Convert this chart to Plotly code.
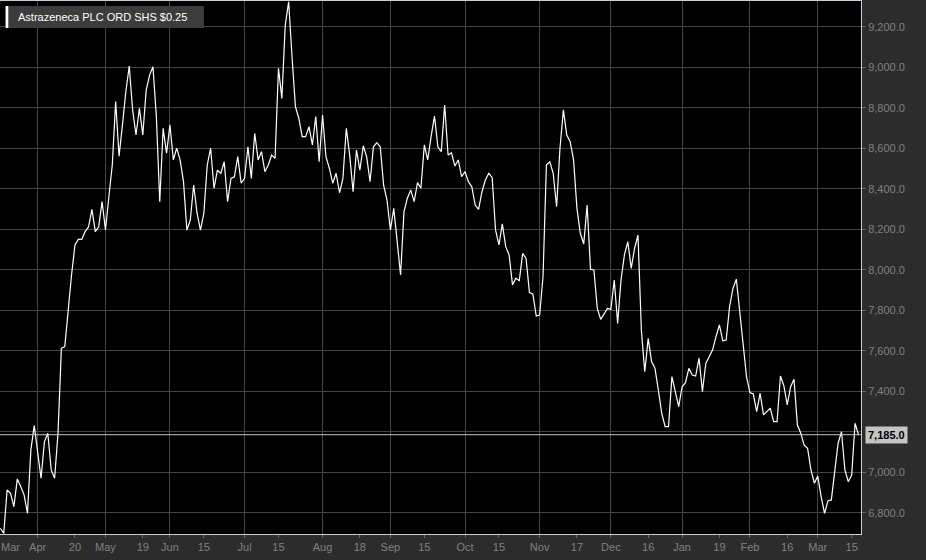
import pandas as pd
import plotly.graph_objects as go

# ---------------- data ----------------
series_name = "Astrazeneca PLC ORD SHS $0.25"
start_date = "2020-03-17"
end_date = "2021-03-17"
market_holidays = ["2020-04-10", "2020-04-13", "2020-05-08", "2020-05-25",
                   "2020-08-31", "2020-12-25", "2020-12-28", "2021-01-01"]

close_prices = [
    6723, 6698, 6912, 6896, 6830, 6967, 6929, 6888, 6797, 7110,
    7230, 7101, 6970, 7151, 7192, 7011, 6970, 7193, 7612, 7620,
    7807, 7975, 8122, 8150, 8150, 8188, 8212, 8298, 8188, 8212,
    8336, 8196, 8360, 8517, 8830, 8561, 8715, 8879, 9006, 8789,
    8665, 8797, 8665, 8887, 8961, 9002, 8756, 8336, 8698, 8575,
    8715, 8542, 8600, 8542, 8435, 8196, 8245, 8418, 8279, 8196,
    8279, 8517, 8600, 8402, 8492, 8476, 8533, 8336, 8451, 8459,
    8558, 8427, 8451, 8607, 8451, 8674, 8542, 8583, 8484, 8517,
    8566, 8550, 8995, 8846, 9208, 9323, 9052, 8805, 8748, 8657,
    8657, 8706, 8616, 8756, 8533, 8764, 8558, 8501, 8427, 8476,
    8380, 8451, 8698, 8566, 8385, 8591, 8492, 8612, 8558, 8435,
    8607, 8627, 8607, 8418, 8344, 8196, 8303, 8138, 7974, 8286,
    8353, 8394, 8336, 8430, 8402, 8616, 8542, 8657, 8759, 8607,
    8583, 8813, 8566, 8578, 8512, 8542, 8459, 8484, 8435, 8410,
    8319, 8298, 8385, 8443, 8476, 8456, 8196, 8122, 8226, 8114,
    8073, 7925, 7958, 7946, 8081, 8056, 7887, 7880, 7771, 7776,
    7966, 8517, 8533, 8476, 8311, 8600, 8789, 8665, 8632, 8542,
    8303, 8180, 8127, 8319, 8002, 7999, 7809, 7755, 7785, 7809,
    7804, 7949, 7735, 7949, 8073, 8138, 8007, 8106, 8171, 7700,
    7496, 7661, 7546, 7513, 7406, 7291, 7225, 7225, 7472, 7398,
    7324, 7422, 7442, 7513, 7480, 7475, 7563, 7398, 7538, 7570,
    7604, 7669, 7727, 7649, 7653, 7817, 7908, 7953, 7801, 7637,
    7472, 7393, 7386, 7299, 7390, 7283, 7299, 7316, 7250, 7250,
    7475, 7427, 7332, 7422, 7459, 7233, 7192, 7134, 7118, 7011,
    6945, 6981, 6879, 6797, 6858, 6863, 7003, 7143, 7200, 7011,
    6953, 6986, 7242, 7185,
]

y_ticks = [6800, 7000, 7200, 7400, 7600, 7800, 8000, 8200, 8400, 8600, 8800, 9000, 9200]

tick_dates = ["2020-04-01", "2020-04-20", "2020-05-01", "2020-05-19", "2020-06-01",
              "2020-06-15", "2020-07-01", "2020-07-15", "2020-08-03", "2020-08-18",
              "2020-09-01", "2020-09-15", "2020-10-01", "2020-10-15", "2020-11-02",
              "2020-11-17", "2020-12-01", "2020-12-16", "2021-01-04", "2021-01-19",
              "2021-02-01", "2021-02-16", "2021-03-01", "2021-03-15"]
tick_labels = ["Apr", "20", "May", "19", "Jun", "15", "Jul", "15", "Aug", "18",
               "Sep", "15", "Oct", "15", "Nov", "17", "Dec", "16", "Jan", "19",
               "Feb", "16", "Mar", "15"]
first_month_label = "Mar"

# ---------------- build ----------------
dates = pd.bdate_range(start_date, end_date, freq="C", holidays=market_holidays)
n = min(len(dates), len(close_prices))
dates = dates[:n]
prices = close_prices[:n]
x_idx = list(range(n))
date_pos = {d.strftime("%Y-%m-%d"): i for i, d in enumerate(dates)}
tick_pos = [date_pos[d] for d in tick_dates]
month_pos = [p for p, t in zip(tick_pos, tick_labels) if not t.isdigit()]

last_price = prices[-1]
# the y label closest to the last-price tag is hidden (its gridline stays)
y_major = [v for v in y_ticks if abs(v - last_price) > 60]
y_hidden = [v for v in y_ticks if abs(v - last_price) <= 60]

FONT = "Liberation Sans, Arial, Helvetica, sans-serif"
GRID = "#444444"
FRAME = "#c8cde0"
TICKTXT = "#808080"

fig = go.Figure()
fig.add_trace(go.Scatter(
    x=x_idx, y=prices, mode="lines",
    customdata=[d.strftime("%d %b %Y") for d in dates],
    line=dict(color="#ffffff", width=1.2),
    name=series_name, showlegend=False,
    hovertemplate="%{customdata}: %{y:,.1f}<extra></extra>",
))

fig.update_layout(
    width=926, height=560,
    margin=dict(l=0, r=65, t=1, b=26),
    paper_bgcolor="#2c2c2c",
    plot_bgcolor="#000000",
    font=dict(family=FONT, size=11, color=TICKTXT),
    xaxis=dict(
        range=[-0.1, 253.75],
        tickmode="array", tickvals=tick_pos, ticktext=tick_labels,
        showgrid=False, zeroline=False,
        ticks="outside", ticklen=3, tickcolor="#666666",
        showline=True, linecolor=FRAME, linewidth=1, mirror=True,
        tickfont=dict(family=FONT, size=11, color=TICKTXT),
        minor=dict(tickmode="array", tickvals=month_pos, showgrid=True,
                   gridcolor=GRID, gridwidth=1, ticks=""),
    ),
    yaxis=dict(
        side="right",
        range=[6694.8, 9326.9],
        tickmode="array", tickvals=y_major, tickformat=",.1f",
        showgrid=True, gridcolor=GRID, gridwidth=1, zeroline=False,
        ticks="outside", ticklen=4, tickcolor="#666666",
        showline=True, linecolor=FRAME, linewidth=1, mirror=True,
        tickfont=dict(family=FONT, size=11, color=TICKTXT),
        minor=dict(tickmode="array", tickvals=y_hidden, showgrid=True,
                   gridcolor=GRID, gridwidth=1, ticks=""),
    ),
)

# last price line
fig.add_shape(type="line", xref="paper", yref="y", x0=0, x1=1,
              y0=last_price, y1=last_price,
              line=dict(color="#c8c8c8", width=1))

# last price label
fig.add_annotation(xref="paper", yref="y", x=1, y=last_price,
                   xanchor="left", yanchor="middle", xshift=4,
                   text=f"<b>{last_price:,.1f}</b>", showarrow=False,
                   bgcolor="#c4c4c4", borderpad=2,
                   font=dict(family=FONT, size=11, color="#000000"))

# first month label at the left edge
fig.add_annotation(xref="paper", yref="paper", x=0, y=0,
                   xanchor="left", yanchor="top", yshift=-5, xshift=-1,
                   text=first_month_label, showarrow=False,
                   font=dict(family=FONT, size=11, color=TICKTXT))

# series title box
PW, PH = 861.0, 533.0
fig.add_shape(type="rect", xref="paper", yref="paper",
              x0=5 / PW, x1=204 / PW, y0=1 - 27 / PH, y1=1 - 5 / PH,
              fillcolor="#3c3c3c", line=dict(width=0), layer="above")
fig.add_shape(type="rect", xref="paper", yref="paper",
              x0=5.7 / PW, x1=8.3 / PW, y0=1 - 27 / PH, y1=1 - 5 / PH,
              fillcolor="#ffffff", line=dict(width=0), layer="above")
fig.add_annotation(xref="paper", yref="paper", x=16 / PW, y=1 - 16 / PH,
                   xanchor="left", yanchor="middle", showarrow=False,
                   text=series_name,
                   font=dict(family=FONT, size=11, color="#ffffff"))

fig.write_html(
    "out.html",
    config={"displayModeBar": False},
    post_script="document.body.style.margin='0';document.body.style.padding='0';"
                "document.body.style.overflow='hidden';",
)
